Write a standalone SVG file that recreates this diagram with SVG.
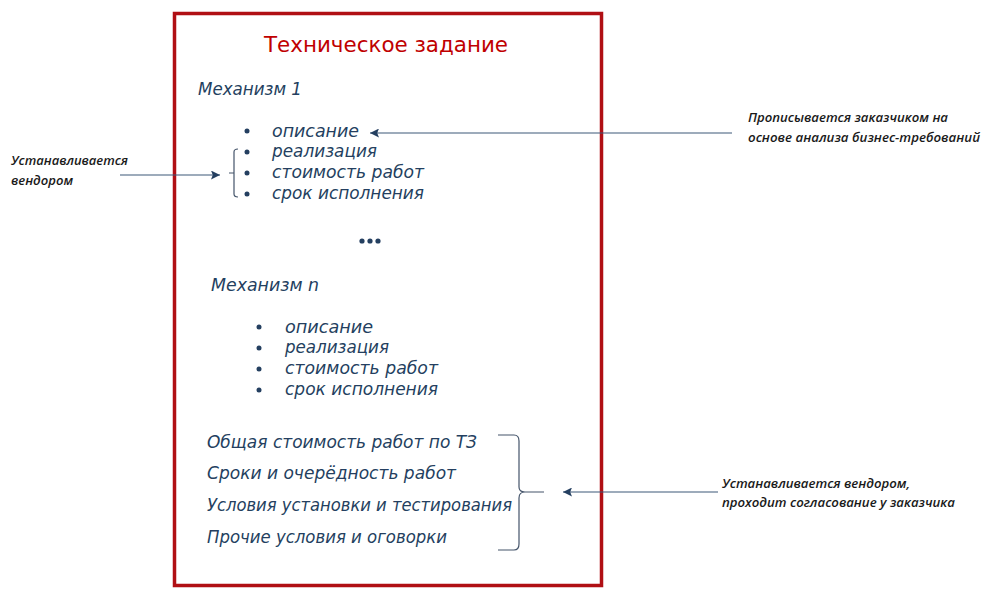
<svg xmlns="http://www.w3.org/2000/svg" width="1000" height="594" viewBox="0 0 1000 594">
<style>
.t{font-family:"DejaVu Sans","Liberation Sans",sans-serif;font-style:italic;fill:#243f60;font-size:17px}
.b{font-size:18px}
.lab{font-family:"Open Sans","DejaVu Sans","Liberation Sans",sans-serif;font-style:italic;font-weight:600;fill:#1a1a1a;font-size:13px}
.title{font-family:"DejaVu Sans","Liberation Sans",sans-serif;fill:#c00000;font-size:22px}
.bul{fill:#243f60}
.con{stroke:#3d5878;stroke-width:1.2;fill:none}
.br{stroke:#44546a;stroke-width:1.2;fill:none}
</style>
<defs>
<marker id="ah" viewBox="0 0 10 10" refX="10" refY="5" markerWidth="9" markerHeight="9" markerUnits="userSpaceOnUse" orient="auto">
<path d="M0,0 L10,5 L0,10 L2,5 Z" fill="#243f60"/>
</marker>
</defs>
<rect width="1000" height="594" fill="#ffffff"/>
<g id="document">
<rect x="174.5" y="13.5" width="427" height="572" fill="none" stroke="#b00f14" stroke-width="3.5"/>
<text class="title" x="264" y="52" textLength="244" lengthAdjust="spacingAndGlyphs">Техническое задание</text>
</g>
<g id="mechanism1">
<text class="t" x="198" y="95" textLength="104" lengthAdjust="spacingAndGlyphs">Механизм 1</text>
<circle class="bul" cx="247" cy="131" r="2.5"/>
<circle class="bul" cx="247" cy="152" r="2.5"/>
<circle class="bul" cx="247" cy="173" r="2.5"/>
<circle class="bul" cx="247" cy="194" r="2.5"/>
<text class="t" x="272" y="137" textLength="87" lengthAdjust="spacingAndGlyphs">описание</text>
<text class="t" x="272" y="157" textLength="105" lengthAdjust="spacingAndGlyphs">реализация</text>
<text class="t" x="272" y="178" textLength="152" lengthAdjust="spacingAndGlyphs">стоимость работ</text>
<text class="t" x="272" y="199" textLength="152" lengthAdjust="spacingAndGlyphs">срок исполнения</text>
<path class="br" d="M238,149 Q234,149 234,152 L234,194 Q234,197 238,197 M229,173 L234,173"/>
</g>
<g id="ellipsis">
<circle class="bul" cx="362" cy="241" r="2.6"/>
<circle class="bul" cx="370" cy="241" r="2.6"/>
<circle class="bul" cx="378" cy="241" r="2.6"/>
</g>
<g id="mechanismN">
<text class="t" x="211" y="291" textLength="108" lengthAdjust="spacingAndGlyphs">Механизм n</text>
<circle class="bul" cx="259" cy="327" r="2.5"/>
<circle class="bul" cx="259" cy="348" r="2.5"/>
<circle class="bul" cx="259" cy="369" r="2.5"/>
<circle class="bul" cx="259" cy="390" r="2.5"/>
<text class="t" x="285" y="333" textLength="88" lengthAdjust="spacingAndGlyphs">описание</text>
<text class="t" x="285" y="353" textLength="104" lengthAdjust="spacingAndGlyphs">реализация</text>
<text class="t" x="285" y="374" textLength="153" lengthAdjust="spacingAndGlyphs">стоимость работ</text>
<text class="t" x="285" y="395" textLength="153" lengthAdjust="spacingAndGlyphs">срок исполнения</text>
</g>
<g id="general">
<text class="t b" x="207" y="448" textLength="270" lengthAdjust="spacingAndGlyphs">Общая стоимость работ по ТЗ</text>
<text class="t b" x="207" y="479" textLength="249" lengthAdjust="spacingAndGlyphs">Сроки и очерёдность работ</text>
<text class="t b" x="207" y="511" textLength="305" lengthAdjust="spacingAndGlyphs">Условия установки и тестирования</text>
<text class="t b" x="207" y="543" textLength="240" lengthAdjust="spacingAndGlyphs">Прочие условия и оговорки</text>
<path class="br" d="M498,435 L514,435 Q519,435 519,441 L519,487 Q519,492 525,492 L544,492 M525,492 Q519,492 519,498 L519,544 Q519,550 514,550 L498,550"/>
</g>
<g id="label-vendor">
<text class="lab" x="11" y="165" textLength="117" lengthAdjust="spacingAndGlyphs">Устанавливается</text>
<text class="lab" x="11" y="185" textLength="62" lengthAdjust="spacingAndGlyphs">вендором</text>
</g>
<g id="label-customer">
<text class="lab" x="748" y="122" textLength="200" lengthAdjust="spacingAndGlyphs">Прописывается заказчиком на</text>
<text class="lab" x="748" y="142" textLength="232" lengthAdjust="spacingAndGlyphs">основе анализа бизнес-требований</text>
</g>
<g id="label-agreement">
<text class="lab" x="722" y="488" textLength="188" lengthAdjust="spacingAndGlyphs">Устанавливается вендором,</text>
<text class="lab" x="722" y="507" textLength="233" lengthAdjust="spacingAndGlyphs">проходит согласование у заказчика</text>
</g>
<g id="connectors">
<line class="con" x1="120" y1="175" x2="220" y2="175" marker-end="url(#ah)"/>
<line class="con" x1="732" y1="133" x2="370" y2="133" marker-end="url(#ah)"/>
<line class="con" x1="718" y1="492" x2="563" y2="492" marker-end="url(#ah)"/>
</g>
</svg>
